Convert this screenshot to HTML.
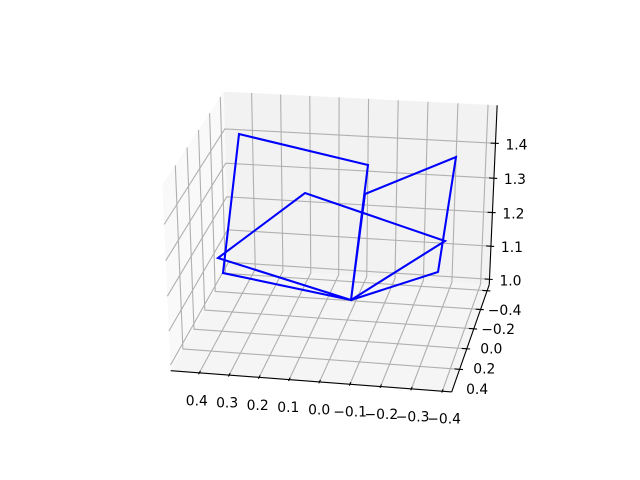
<!DOCTYPE html>
<html lang="en">
<head>
<meta charset="utf-8">
<title>3D wireframe chart</title>
<style>
html,body{margin:0;padding:0;background:#fff;width:640px;height:480px;overflow:hidden}
svg{display:block}
text{font-family:"DejaVu Sans","Liberation Sans",sans-serif;font-size:13.89px;fill:#000;text-anchor:middle}
</style>
</head>
<body>
<svg id="chart" width="640" height="480" viewBox="0 0 640 480" xmlns="http://www.w3.org/2000/svg">
<rect x="0" y="0" width="640" height="480" fill="#ffffff"/>
<g id="panes"></g>
<g id="grid" fill="none" stroke="#b0b0b0" stroke-width="1.11"></g>
<g id="axes" fill="none" stroke="#000" stroke-width="1.11"></g>
<g id="labels"></g>
<g id="series" fill="none" stroke="#0000ff" stroke-width="2.08" stroke-linejoin="miter"></g>
</svg>
<script>
// Chart data
const xTicks = [0.4, 0.3, 0.2, 0.1, 0.0, -0.1, -0.2, -0.3, -0.4];
const xTickLabels = ["0.4", "0.3", "0.2", "0.1", "0.0", "\u22120.1", "\u22120.2", "\u22120.3", "\u22120.4"];
const yTicks = [-0.4, -0.2, 0.0, 0.2, 0.4];
const yTickLabels = ["\u22120.4", "\u22120.2", "0.0", "0.2", "0.4"];
const zTicks = [1.0, 1.1, 1.2, 1.3, 1.4];
const zTickLabels = ["1.0", "1.1", "1.2", "1.3", "1.4"];
const lineX = [0.0097, 0.4946, 0.3622, -0.1015, 0.0097, 0.3710, 0.0483, -0.3304, 0.0097, -0.2943, -0.3639, -0.0706, 0.0097];
const lineY = [-0.1510, -0.3449, -0.0070, 0.2555, -0.1510, 0.3771, 0.5838, 0.0562, -0.1510, -0.0845, 0.1174, 0.0991, -0.1510];
const lineZ = [1.0, 1.0, 1.5, 1.5, 1.0, 1.25, 1.5, 1.25, 1.0, 1.12, 1.5, 1.38, 1.0];
const xLim = [-0.4302, 0.4965];
const yLim = [-0.4653, 0.6134];
const zLim = [0.9835, 1.5068];

// Projective camera fitted to the axis box
function projectBox(u, v, w) {
  const q = 1 - 0.02506 * u + 0.082 * v - 0.05 * w;
  return [
    (170.7 + 269.68 * u + 76.73 * v - 16.5 * w) / q,
    (370.7 + 11.4 * u - 81.2 * v - 194.93 * w) / q
  ];
}
function uOf(x) { return (xLim[1] - x) / (xLim[1] - xLim[0]); }
function vOf(y) { return (yLim[1] - y) / (yLim[1] - yLim[0]); }
function wOf(z) { return (z - zLim[0]) / (zLim[1] - zLim[0]); }
function project(x, y, z) { return projectBox(uOf(x), vOf(y), wOf(z)); }
function pts(list) {
  return list.map(function (p) { return p[0].toFixed(2) + "," + p[1].toFixed(2); }).join(" ");
}
const SVGNS = "http://www.w3.org/2000/svg";
function make(tag, parentId) {
  const el = document.createElementNS(SVGNS, tag);
  document.getElementById(parentId).appendChild(el);
  return el;
}

// Panes
const paneLeft = make("polygon", "panes");


paneLeft.setAttribute("points", pts([projectBox(0,0,0), projectBox(0,1,0), projectBox(0,1,1), projectBox(0,0,1)]));
paneLeft.setAttribute("fill", "#f9f9f9");
const paneBack = make("polygon", "panes");


paneBack.setAttribute("points", pts([projectBox(0,1,0), projectBox(1,1,0), projectBox(1,1,1), projectBox(0,1,1)]));
paneBack.setAttribute("fill", "#f2f2f2");
const paneFloor = make("polygon", "panes");


paneFloor.setAttribute("points", pts([projectBox(0,0,0), projectBox(1,0,0), projectBox(1,1,0), projectBox(0,1,0)]));
paneFloor.setAttribute("fill", "#f5f5f5");

// Grid lines
xTicks.forEach(function (t) {
  const u = uOf(t);
  const g = make("polyline", "grid");
  
  
  g.setAttribute("points", pts([projectBox(u,0,0), projectBox(u,1,0), projectBox(u,1,1)]));
});
yTicks.forEach(function (t) {
  const v = vOf(t);
  const g = make("polyline", "grid");
  
  
  g.setAttribute("points", pts([projectBox(1,v,0), projectBox(0,v,0), projectBox(0,v,1)]));
});
zTicks.forEach(function (t) {
  const w = wOf(t);
  const g = make("polyline", "grid");
  
  
  g.setAttribute("points", pts([projectBox(1,1,w), projectBox(0,1,w), projectBox(0,0,w)]));
});

// Axis lines
const xAxisLine = make("polyline", "axes");


xAxisLine.setAttribute("points", pts([projectBox(0,0,0), projectBox(1,0,0)]));
const yAxisLine = make("polyline", "axes");


yAxisLine.setAttribute("points", pts([projectBox(1,0,0), projectBox(1,1,0)]));
const zAxisLine = make("polyline", "axes");


zAxisLine.setAttribute("points", pts([projectBox(1,1,0), projectBox(1,1,1)]));

// Ticks and labels
xTicks.forEach(function (t, i) {
  const u = uOf(t);
  const m = make("polyline", "axes");
  
  
  m.setAttribute("points", pts([projectBox(u,-0.012,0), projectBox(u,0.018,0)]));
  const p = projectBox(u,0,0);
  const label = make("text", "labels");
  
  
  label.setAttribute("x", (p[0] - 3 + 5 * u).toFixed(2));
  label.setAttribute("y", (p[1] + 32.5).toFixed(2));
  label.textContent = xTickLabels[i];
});
yTicks.forEach(function (t, i) {
  const v = vOf(t);
  const m = make("polyline", "axes");
  
  
  m.setAttribute("points", pts([projectBox(0.982,v,0), projectBox(1.012,v,0)]));
  const p = projectBox(1,v,0);
  const label = make("text", "labels");
  
  
  label.setAttribute("x", (p[0] + 17.5).toFixed(2));
  label.setAttribute("y", (p[1] + 24.5).toFixed(2));
  label.textContent = yTickLabels[i];
});
zTicks.forEach(function (t, i) {
  const w = wOf(t);
  const m = make("polyline", "axes");
  
  
  m.setAttribute("points", pts([projectBox(0.982,1,w), projectBox(1.012,1,w)]));
  const p = projectBox(1,1,w);
  const label = make("text", "labels");
  
  
  label.setAttribute("x", (p[0] + 21).toFixed(2));
  label.setAttribute("y", (p[1] + 6).toFixed(2));
  label.textContent = zTickLabels[i];
});

// Data line
const dataLine = make("polyline", "series");


dataLine.setAttribute("points", pts(lineX.map(function (x, i) { return project(x, lineY[i], lineZ[i]); })));
</script>
</body>
</html>
